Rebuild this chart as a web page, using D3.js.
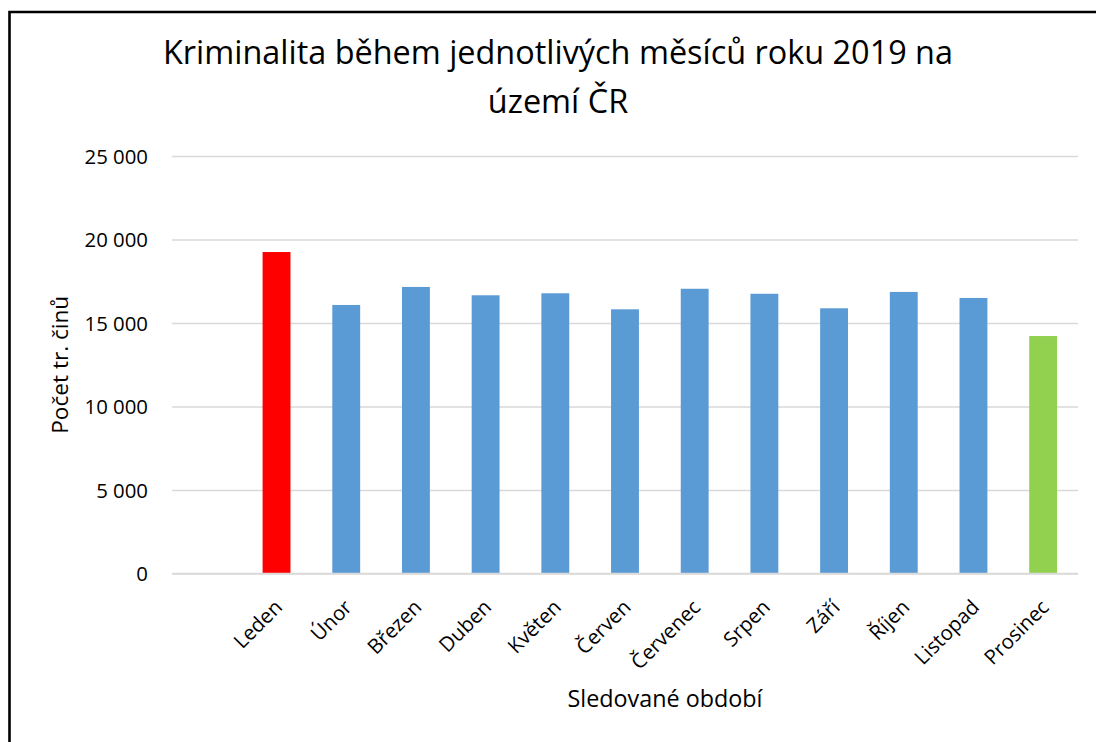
<!DOCTYPE html>
<html>
<head>
<meta charset="utf-8">
<script src="https://cdn.jsdelivr.net/npm/d3@7"></script>
<style>
  html, body { margin: 0; padding: 0; background: #fff; overflow: hidden; }
  text { font-family: "Open Sans", "Noto Sans", sans-serif; fill: #000; }
</style>
</head>
<body>
<svg id="chart" width="1096" height="742"></svg>
<script>
const categories = ["", "Leden", "Únor", "Březen", "Duben", "Květen", "Červen", "Červenec", "Srpen", "Září", "Říjen", "Listopad", "Prosinec"];
const values = [null, 19250, 16080, 17160, 16660, 16780, 15820, 17050, 16750, 15880, 16860, 16500, 14220];
const barColors = ["none", "#ff0000", "#5b9bd5", "#5b9bd5", "#5b9bd5", "#5b9bd5", "#5b9bd5", "#5b9bd5", "#5b9bd5", "#5b9bd5", "#5b9bd5", "#5b9bd5", "#92d050"];
const yTicks = [0, 5000, 10000, 15000, 20000, 25000];
const titleLines = ["Kriminalita během jednotlivých měsíců roku 2019 na", "území ČR"];
const yTitle = "Počet tr. činů";
const xTitle = "Sledované období";

const svg = d3.select("#chart");
const W = 1096, H = 742;
const plot = { left: 172, right: 1078, top: 156, bottom: 573.5 };
const FONT = '"Open Sans", "Noto Sans", sans-serif';

function fitWidth(sel, target) {
  sel.each(function () {
    const len = this.getComputedTextLength();
    const fs = parseFloat(this.getAttribute("font-size"));
    if (len > 0) this.setAttribute("font-size", (fs * target / len).toFixed(2));
  });
}

// outer frame (top and left edges visible)
svg.append("path")
  .attr("d", `M9.5,${H + 10}V12H${W + 10}`)
  .attr("fill", "none").attr("stroke", "#000").attr("stroke-width", 2.6);

const x = d3.scaleBand().domain(categories.map((c, i) => i))
  .range([plot.left, plot.right]).paddingInner(0.6).paddingOuter(0.3);
const y = d3.scaleLinear().domain([0, 25000]).range([plot.bottom, plot.top]);

// gridlines + y tick labels
const fmt = v => d3.format(",")(v).replace(/,/g, " ");
const yAxis = d3.axisLeft(y).tickValues(yTicks).tickSize(-(plot.right - plot.left)).tickPadding(24).tickFormat(fmt);
const gy = svg.append("g").attr("transform", `translate(${plot.left},0)`).call(yAxis);
gy.select(".domain").remove();
gy.selectAll(".tick line").attr("stroke", "#d9d9d9").attr("stroke-width", 1.5);
const yLabels = gy.selectAll(".tick text").attr("font-size", 20).attr("font-family", FONT).attr("fill", "#000")
  .attr("x", 148 - plot.left).attr("dy", "0.36em");
const refLabel = yLabels.filter(d => d === 25000).node();
const labelSize = 20 * 63.5 / refLabel.getComputedTextLength();
yLabels.attr("font-size", labelSize.toFixed(2));

// bars
svg.append("g").selectAll("rect")
  .data(values.map((v, i) => ({ v, i })).filter(d => d.v != null))
  .join("rect")
  .attr("x", d => x(d.i))
  .attr("width", x.bandwidth())
  .attr("y", d => y(d.v))
  .attr("height", d => y(0) - y(d.v))
  .attr("fill", d => barColors[d.i]);

// x axis
const xAxis = d3.axisBottom(x).tickSize(0).tickFormat(i => categories[i]);
const gx = svg.append("g").attr("transform", `translate(0,${plot.bottom})`).call(xAxis);
gx.select(".domain").attr("stroke", "#d9d9d9").attr("stroke-width", 1.5).attr("d", `M${plot.left},0H${plot.right}`);
gx.selectAll(".tick text")
  .attr("font-size", labelSize.toFixed(2)).attr("font-family", FONT).attr("fill", "#000")
  .attr("text-anchor", "end")
  .attr("y", 0).attr("dy", 0)
  .attr("transform", "translate(7,35) rotate(-45)");

// title
const tt = svg.append("g").selectAll("text").data(titleLines).join("text")
  .attr("x", 558)
  .attr("y", (d, i) => 64 + i * 49)
  .attr("text-anchor", "middle")
  .attr("font-size", 30)
  .text(d => d);
const l1 = tt.filter((d, i) => i === 0).node();
const scale = 790 / l1.getComputedTextLength();
tt.attr("font-size", (30 * scale).toFixed(2));

// axis titles
svg.append("text")
  .attr("transform", `translate(68,${(plot.top + plot.bottom) / 2}) rotate(-90)`)
  .attr("text-anchor", "middle")
  .attr("font-size", 20)
  .text(yTitle)
  .call(fitWidth, 138);

svg.append("text")
  .attr("x", 665).attr("y", 707)
  .attr("text-anchor", "middle")
  .attr("font-size", 20)
  .text(xTitle)
  .call(fitWidth, 195);
</script>
</body>
</html>
